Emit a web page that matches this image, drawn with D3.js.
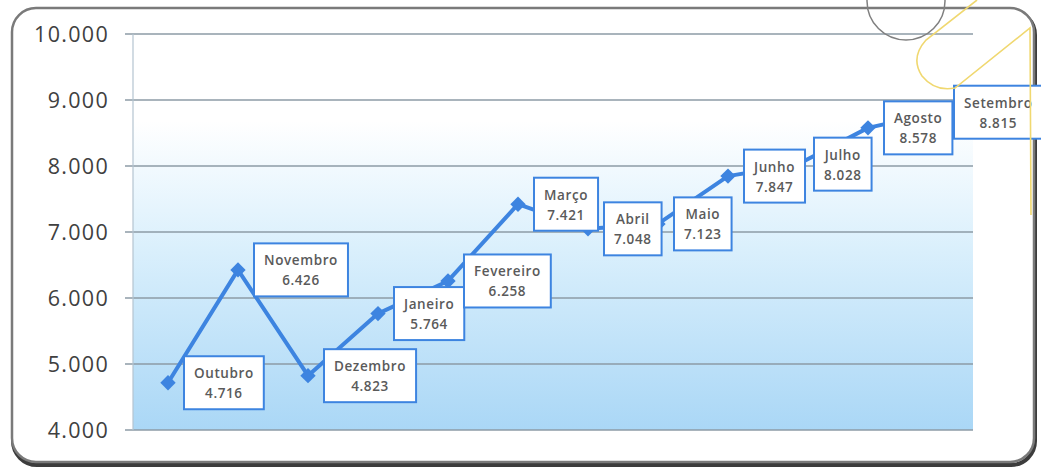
<!DOCTYPE html>
<html><head><meta charset="utf-8">
<script src="https://cdn.jsdelivr.net/npm/d3@7"></script>
<style>body{margin:0;background:#fff}svg{display:block}</style>
</head><body>
<svg id="c" width="1041" height="472"></svg>
<script>
const months = ["Outubro","Novembro","Dezembro","Janeiro","Fevereiro","Março","Abril","Maio","Junho","Julho","Agosto","Setembro"];
const values = [4716,6426,4823,5764,6258,7421,7048,7123,7847,8028,8578,8815];
const yTicks = [4000,5000,6000,7000,8000,9000,10000];

const loc = d3.formatLocale({decimal:",", thousands:".", grouping:[3], currency:["R$",""]});
const fmt = loc.format(",d");

const svg = d3.select("#c");
const plot = {l:133, r:973, t:34, b:430};

const x = d3.scalePoint().domain(months).range([plot.l, plot.r]).padding(0.5);
const y = d3.scaleLinear().domain([4000,10000]).range([plot.b, plot.t]);

const defs = svg.append("defs");
const g1 = defs.append("linearGradient").attr("id","bg").attr("x1",0).attr("y1",0).attr("x2",0).attr("y2",1);
g1.append("stop").attr("offset","0%").attr("stop-color","#ffffff");
g1.append("stop").attr("offset","22%").attr("stop-color","#ffffff");
g1.append("stop").attr("offset","55%").attr("stop-color","#d9effc");
g1.append("stop").attr("offset","100%").attr("stop-color","#aad7f6");

// frame
svg.append("rect").attr("x",13).attr("y",11).attr("width",1022).attr("height",454).attr("rx",24)
  .attr("fill","none").attr("stroke","#3c3c3c").attr("stroke-width",4);
svg.append("rect").attr("x",12).attr("y",8).attr("width",1022).attr("height",454).attr("rx",24)
  .attr("fill","#fff").attr("stroke","#7a7a7a").attr("stroke-width",2.5);

// plot background
svg.append("rect").attr("x",plot.l).attr("y",plot.t).attr("width",plot.r-plot.l).attr("height",plot.b-plot.t)
  .attr("fill","url(#bg)");

// gridlines
svg.append("g").selectAll("line").data(yTicks).join("line")
  .attr("x1",125).attr("x2",plot.r).attr("y1",d=>y(d)).attr("y2",d=>y(d))
  .attr("stroke","#8c9ba6").attr("stroke-width",1.4);
// vertical axis
svg.append("line").attr("x1",plot.l).attr("x2",plot.l).attr("y1",plot.t).attr("y2",plot.b)
  .attr("stroke","#b4c4d0").attr("stroke-width",1.2);

// y tick labels
svg.append("g").selectAll("text").data(yTicks).join("text")
  .attr("x",109).attr("y",d=>y(d)).attr("dy","0.36em").attr("text-anchor","end")
  .attr("font-family","'Open Sans', sans-serif").attr("font-size",21.5).attr("fill","#404040")
  .attr("letter-spacing",1.3)
  .text(d=>fmt(d));

// line
const pts = months.map((m,i)=>[x(m), y(values[i])]);
svg.append("path").attr("d", d3.line()(pts)).attr("fill","none")
  .attr("stroke","#3d84e0").attr("stroke-width",4).attr("stroke-linejoin","round");
svg.append("g").selectAll("path").data(pts).join("path")
  .attr("d", d3.symbol(d3.symbolDiamond2, 150)())
  .attr("transform", d=>`translate(${d[0]},${d[1]})`)
  .attr("fill","#3d84e0");

// labels
const lab = svg.append("g");
months.forEach((m,i)=>{
  const px = x(m), py = y(values[i]);
  const gg = lab.append("g");
  const rect = gg.append("rect");
  const t1 = gg.append("text").attr("text-anchor","middle").attr("font-family","'Open Sans', sans-serif")
    .attr("font-size",13.5).attr("font-weight",600).attr("fill","#5a5a5a").attr("letter-spacing",0.6).text(m);
  const t2 = gg.append("text").attr("text-anchor","middle").attr("font-family","'Open Sans', sans-serif")
    .attr("font-size",13.5).attr("font-weight",600).attr("fill","#5a5a5a").attr("letter-spacing",0.6).text(fmt(values[i]));
  const w = Math.max(t1.node().getComputedTextLength(), t2.node().getComputedTextLength()) + 20;
  const h = 53;
  const bx = px + 16, by = py - h/2;
  rect.attr("x",bx).attr("y",by).attr("width",w).attr("height",h).attr("fill","#fff")
    .attr("stroke","#3d84e0").attr("stroke-width",2);
  t1.attr("x",bx + w/2).attr("y",by + 22);
  t2.attr("x",bx + w/2).attr("y",by + 42);
});

// decorations (on top)
svg.append("circle").attr("cx",906).attr("cy",1).attr("r",39).attr("fill","none").attr("stroke","#808080").attr("stroke-width",1.5);
svg.append("path").attr("d","M977,0 L926,40 Q910,58 922,76 Q935,92 955,88 L1030,28 L1031,215")
  .attr("fill","none").attr("stroke","#f0d870").attr("stroke-width",1.6);
</script>
</body></html>
